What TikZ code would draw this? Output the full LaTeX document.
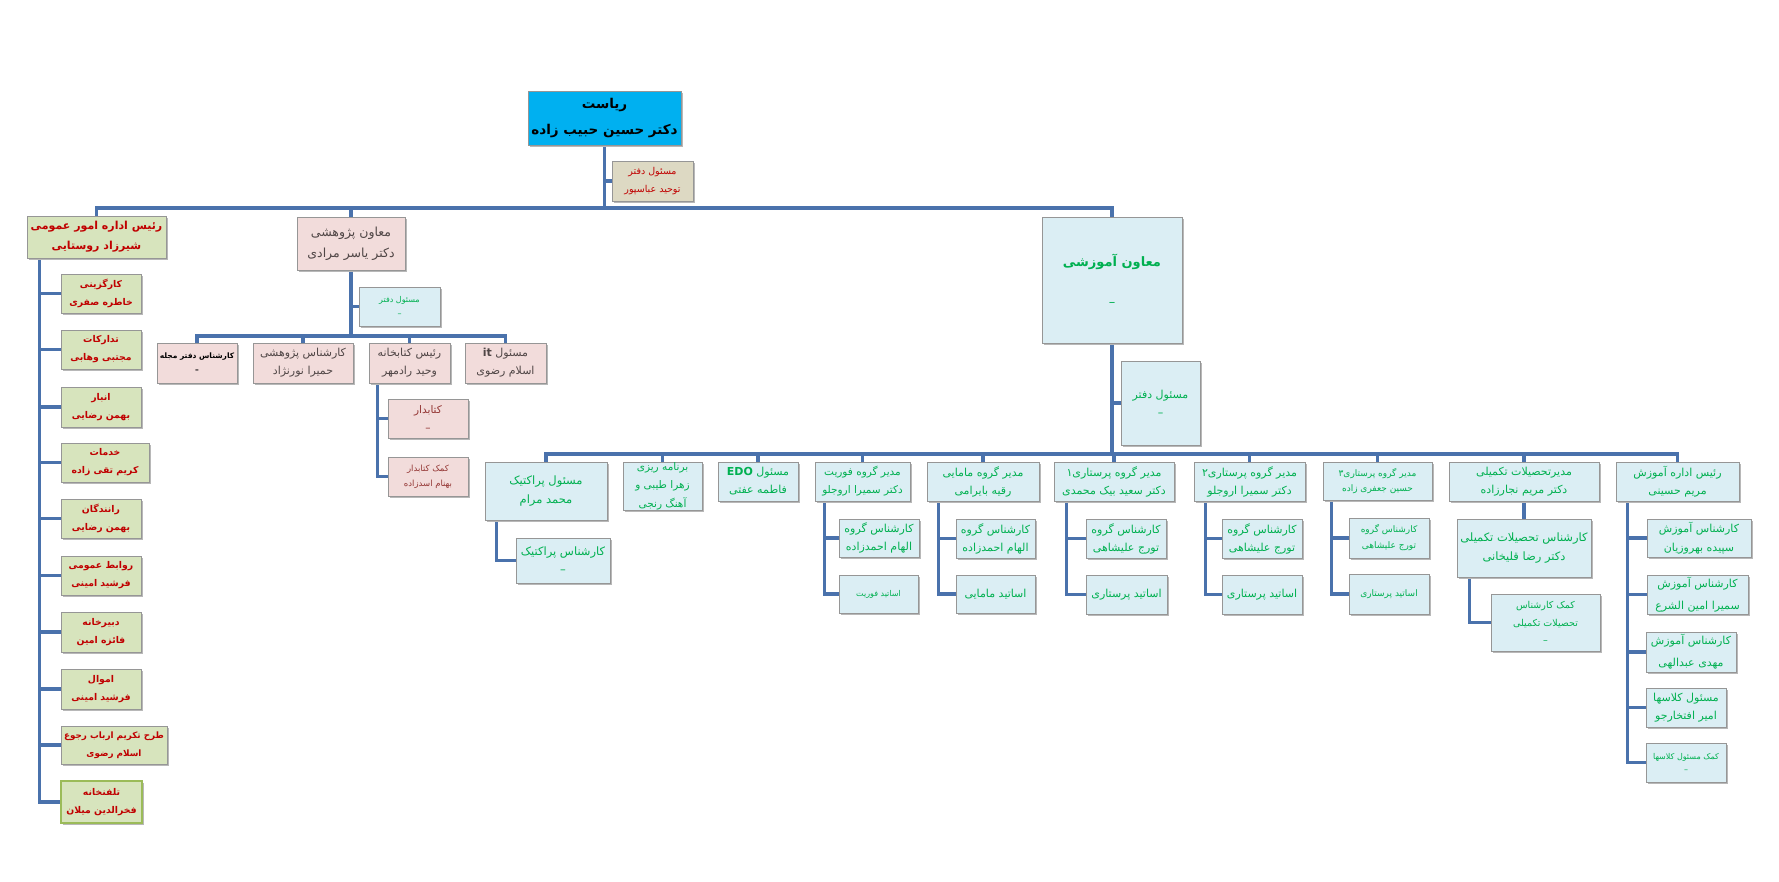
\documentclass[tikz,border=0pt]{standalone}
\usepackage{fontspec}
\setmainfont[Script=Arabic]{DejaVu Sans}
\TeXXeTstate=1
\usetikzlibrary{shadows}
\definecolor{lnc}{RGB}{74,114,172}
\definecolor{bord}{RGB}{150,150,150}
\definecolor{gfill}{RGB}{215,228,189}
\definecolor{gbord}{RGB}{155,187,89}
\definecolor{pfill}{RGB}{242,220,219}
\definecolor{bfill}{RGB}{219,238,244}
\definecolor{tfill}{RGB}{221,217,195}
\definecolor{cfill}{RGB}{0,176,240}
\definecolor{dred}{RGB}{192,0,0}
\definecolor{grn}{RGB}{0,176,80}
\definecolor{dgray}{RGB}{80,70,70}
\definecolor{brn}{RGB}{148,54,52}
\newcommand\R[1]{\beginR #1\endR}
\newcommand\Lt[1]{\beginL #1\endL{}}
\newcommand\fz[2]{\fontsize{#1}{#2}\selectfont}
\pgfdeclarelayer{bg}
\pgfsetlayers{bg,main}
\tikzset{
  base/.style={draw=bord, line width=0.7pt, inner sep=0pt, align=center,
    general shadow={fill=black!28, shadow xshift=1.6pt, shadow yshift=-1.6pt}},
  gb/.style={base, fill=gfill, text=dred},
  pb/.style={base, fill=pfill, text=dgray},
  bb/.style={base, fill=bfill, text=grn},
  gk/.style={gb, font=\fz{9.3}{18}\bfseries},
  ek/.style={bb, font=\fz{11}{18}},
  pk/.style={pb, font=\fz{11}{18}},
  conn/.style={draw=lnc, line width=3.5pt},
}
\newcommand\bx[7]{\node[#6, minimum width={(#4)-(#2)}, minimum height={(#5)-(#3)}] (#1) at ({((#2)+(#4))/2},{((#3)+(#5))/2}) {#7};}
\begin{document}
\begin{tikzpicture}[x=1pt,y=-1pt]
\useasboundingbox (0,0) rectangle (1779,881);

% ---------- root
\bx{root}{528}{91}{681}{145}{base, fill=cfill, text=black, font=\fz{13.5}{26}\bfseries}{\R{ریاست}\\\R{دکتر حسین حبیب زاده}}
\bx{rasst}{612}{161}{693}{201}{base, fill=tfill, text=dred, font=\fz{9.5}{18}}{\R{مسئول دفتر}\\\R{توحید عباسپور}}

% ---------- general affairs
\bx{gen}{27}{216}{166}{258}{gb, font=\fz{11}{20}\bfseries}{\R{رئیس اداره امور عمومی}\\\R{شیرزاد روستایی}}
\bx{g1}{61}{274}{141}{313}{gk}{\R{کارگزینی}\\\R{خاطره صفری}}
\bx{g2}{61}{330}{141}{369}{gk}{\R{تدارکات}\\\R{مجتبی وهابی}}
\bx{g3}{61}{387}{141}{427}{gk}{\R{انبار}\\\R{بهمن رضایی}}
\bx{g4}{61}{443}{149}{482}{gk}{\R{خدمات}\\\R{کریم تقی زاده}}
\bx{g5}{61}{499}{141}{538}{gk}{\R{رانندگان}\\\R{بهمن رضایی}}
\bx{g6}{61}{556}{141}{595}{gk}{\R{روابط عمومی}\\\R{فرشید امینی}}
\bx{g7}{61}{612}{141}{652}{gk}{\R{دبیرخانه}\\\R{فائزه امین}}
\bx{g8}{61}{669}{141}{709}{gk}{\R{اموال}\\\R{فرشید امینی}}
\bx{g9}{61}{726}{167}{764}{gk, font=\fz{8.8}{18}\bfseries}{\R{طرح تکریم ارباب رجوع}\\\R{اسلام رضوی}}
\bx{g10}{61}{781}{142}{823}{gk, draw=gbord, line width=2.5pt}{\R{تلفنخانه}\\\R{فخرالدین میلان}}

% ---------- research
\bx{res}{297}{217}{405}{270}{pb, font=\fz{12.5}{21}}{\R{معاون پژوهشی}\\\R{دکتر یاسر مرادی}}
\bx{rd}{359}{287}{440}{326}{bb, font=\fz{8}{14}}{\R{مسئول دفتر}\\\R{–}}
\bx{r1}{157}{343}{237}{383}{pb, text=black, font=\fz{7.5}{14}\bfseries}{\R{کارشناس دفتر مجله}\\\R{–}}
\bx{r2}{253}{343}{353}{383}{pk}{\R{کارشناس پژوهشی}\\\R{حمیرا نورنژاد}}
\bx{lib}{369}{343}{450}{383}{pk}{\R{رئیس کتابخانه}\\\R{وحید رادمهر}}
\bx{r4}{465}{343}{546}{383}{pk}{\R{مسئول \Lt{\textbf{it}}}\\\R{اسلام رضوی}}
\bx{lb1}{388}{399}{468}{438}{pb, text=brn, font=\fz{10.5}{18}}{\R{کتابدار}\\\R{–}}
\bx{lb2}{388}{457}{468}{496}{pb, text=brn, font=\fz{8.5}{15}}{\R{کمک کتابدار}\\\R{بهنام اسدزاده}}

% ---------- education
\bx{edu}{1042}{217}{1182}{343}{bb, font=\fz{13}{20}\bfseries}{\R{معاون آموزشی}\\[20pt]{\mdseries\R{–}}}
\bx{eo}{1121}{361}{1200}{445}{ek}{\R{مسئول دفتر}\\\R{–}}
\bx{prac}{485}{462}{607}{520}{ek, font=\fz{11.5}{19}}{\R{مسئول پراکتیک}\\\R{محمد مرام}}
\bx{kp}{516}{538}{610}{583}{ek, font=\fz{11.5}{18}}{\R{کارشناس پراکتیک}\\\R{–}}
\bx{plan}{623}{462}{702}{510}{ek, font=\fz{10.5}{18.5}}{\R{برنامه ریزی}\\\R{زهرا طیبی و}\\\R{آهنگ رنجی}}
\bx{edo}{718}{462}{798}{501}{ek}{\R{مسئول \Lt{\textbf{EDO}}}\\\R{فاطمه عفتی}}
\bx{fov}{815}{462}{910}{501}{ek, font=\fz{10.5}{18}}{\R{مدیر گروه فوریت}\\\R{دکتر سمیرا اروجلو}}
\bx{fk}{839}{519}{919}{557}{ek}{\R{کارشناس گروه}\\\R{الهام احمدزاده}}
\bx{fa}{839}{575}{918}{613}{ek, font=\fz{8}{14}}{\R{اساتید فوریت}}
\bx{mam}{927}{462}{1039}{501}{ek}{\R{مدیر گروه مامایی}\\\R{رقیه بایرامی}}
\bx{mk}{956}{519}{1035}{558}{ek}{\R{کارشناس گروه}\\\R{الهام احمدزاده}}
\bx{ma}{956}{575}{1035}{613}{ek}{\R{اساتید مامایی}}
\bx{p1}{1054}{462}{1174}{501}{ek}{\R{مدیر گروه پرستاری۱}\\\R{دکتر سعید بیک محمدی}}
\bx{p1k}{1086}{519}{1166}{558}{ek}{\R{کارشناس گروه}\\\R{تورج علیشاهی}}
\bx{p1a}{1086}{575}{1167}{614}{ek}{\R{اساتید پرستاری}}
\bx{p2}{1194}{462}{1305}{501}{ek}{\R{مدیر گروه پرستاری۲}\\\R{دکتر سمیرا اروجلو}}
\bx{p2k}{1222}{519}{1302}{558}{ek}{\R{کارشناس گروه}\\\R{تورج علیشاهی}}
\bx{p2a}{1222}{575}{1302}{614}{ek}{\R{اساتید پرستاری}}
\bx{p3}{1323}{462}{1432}{500}{ek, font=\fz{9}{15}}{\R{مدیر گروه پرستاری۳}\\\R{حسین جعفری زاده}}
\bx{p3k}{1349}{518}{1429}{558}{ek, font=\fz{9}{16}}{\R{کارشناس گروه}\\\R{تورج علیشاهی}}
\bx{p3a}{1349}{574}{1429}{614}{ek, font=\fz{9}{15}}{\R{اساتید پرستاری}}
\bx{grad}{1449}{462}{1599}{501}{ek, font=\fz{11}{18}}{\R{مدیرتحصیلات تکمیلی}\\\R{دکتر مریم نجارزاده}}
\bx{gk}{1457}{519}{1591}{577}{ek, font=\fz{11.5}{19}}{\R{کارشناس تحصیلات تکمیلی}\\\R{دکتر رضا قلیخانی}}
\bx{gc}{1491}{594}{1600}{651}{ek, font=\fz{9.5}{17.5}}{\R{کمک کارشناس}\\\R{تحصیلات تکمیلی}\\\R{–}}
\bx{head}{1616}{462}{1739}{501}{ek}{\R{رئیس اداره آموزش}\\\R{مریم حسینی}}
\bx{h1}{1647}{519}{1751}{557}{ek, font=\fz{11}{19}}{\R{کارشناس آموزش}\\\R{سپیده بهروزیان}}
\bx{h2}{1647}{575}{1748}{614}{ek, font=\fz{11}{22}}{\R{کارشناس آموزش}\\\R{سمیرا امین الشرع}}
\bx{h3}{1646}{632}{1736}{672}{ek, font=\fz{11}{22}}{\R{کارشناس آموزش}\\\R{مهدی عبدالهی}}
\bx{h4}{1646}{688}{1726}{727}{ek, font=\fz{11}{18}}{\R{مسئول کلاسها}\\\R{امیر افتخارجو}}
\bx{h5}{1646}{743}{1726}{782}{ek, font=\fz{8}{13}}{\R{کمک مسئول کلاسها}\\\R{–}}

% ---------- connectors
\begin{pgfonlayer}{bg}
\fill[white] (0,0) rectangle (1779,881);
\coordinate (barA) at (0,208);
\coordinate (barB) at (0,336);
\coordinate (barC) at (0,454);
% root level
\draw[conn] (root.south) -- (root.south |- barA) -| (gen.north);
\draw[conn] (root.south |- barA) -| (res.north);
\draw[conn] (root.south |- barA) -| (edu.north);
\draw[conn] (root.south |- rasst.west) -- (rasst.west);
% general affairs
\path (gen.south west) ++(13,0) coordinate (gv);
\foreach \n in {g1,g2,g3,g4,g5,g6,g7,g8,g9,g10} \draw[conn] (gv) |- (\n.west);
% research
\draw[conn] (res.south) -- (res.south |- barB);
\foreach \n in {r1,r2,lib,r4} \draw[conn] (res.south |- barB) -| (\n.north);
\draw[conn] (res.south |- rd.west) -- (rd.west);
\path (lib.south west) ++(9,0) coordinate (lv);
\draw[conn] (lv) |- (lb1.west);
\draw[conn] (lv) |- (lb2.west);
% education
\draw[conn] (edu.south) -- (edu.south |- barC);
\foreach \n in {prac,plan,edo,fov,mam,p1,p2,p3,grad,head} \draw[conn] (edu.south |- barC) -| (\n.north);
\draw[conn] (edu.south |- eo.west) -- (eo.west);
\path (prac.south west) ++(12,0) coordinate (pv);
\draw[conn] (pv) |- (kp.west);
\path (fov.south west) ++(10,0) coordinate (fv);
\draw[conn] (fv) |- (fk.west);
\draw[conn] (fv) |- (fa.west);
\path (mam.south west) ++(12,0) coordinate (mv);
\draw[conn] (mv) |- (mk.west);
\draw[conn] (mv) |- (ma.west);
\path (p1.south west) ++(13,0) coordinate (p1v);
\draw[conn] (p1v) |- (p1k.west);
\draw[conn] (p1v) |- (p1a.west);
\path (p2.south west) ++(12,0) coordinate (p2v);
\draw[conn] (p2v) |- (p2k.west);
\draw[conn] (p2v) |- (p2a.west);
\path (p3.south west) ++(9,0) coordinate (p3v);
\draw[conn] (p3v) |- (p3k.west);
\draw[conn] (p3v) |- (p3a.west);
\draw[conn] (grad.south) -- (gk.north);
\path (gk.south west) ++(13,0) coordinate (gkv);
\draw[conn] (gkv) |- (gc.west);
\path (head.south west) ++(12,0) coordinate (hv);
\foreach \n in {h1,h2,h3,h4,h5} \draw[conn] (hv) |- (\n.west);
\end{pgfonlayer}
\end{tikzpicture}
\end{document}
